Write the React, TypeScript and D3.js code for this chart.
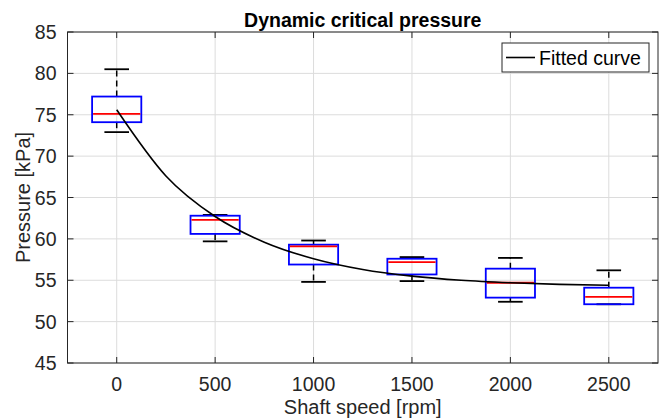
import React from 'react';
import * as d3 from 'd3';

// shaft speeds (rpm) and box statistics (kPa)
const speeds = [0, 500, 1000, 1500, 2000, 2500];
const whiskerLow = [72.9, 59.7, 54.8, 54.9, 52.4, 52.1];
const q1 = [74.1, 60.6, 56.9, 55.7, 52.9, 52.1];
const medians = [75.1, 62.3, 59.1, 57.2, 54.7, 53.0];
const q3 = [77.2, 62.8, 59.3, 57.6, 56.4, 54.1];
const whiskerHigh = [80.5, 62.9, 59.8, 57.8, 57.7, 56.2];

// fitted curve
const fitSpeeds = [0, 250, 500, 750, 1000, 1250, 1500, 1750, 2000, 2250, 2500];
const fitPressure = [75.6, 67.6, 62.7, 59.6, 57.6, 56.3, 55.5, 55.0, 54.7, 54.5, 54.4];

const xTicks = [0, 500, 1000, 1500, 2000, 2500];
const yTicks = [45, 50, 55, 60, 65, 70, 75, 80, 85];

const W = 665;
const H = 418;
const FONT = '"Liberation Sans", Arial, Helvetica, sans-serif';

const App = () => {
  const ref = React.useRef<SVGSVGElement>(null);

  React.useEffect(() => {
    const svg = d3.select(ref.current);
    svg.selectAll('*').remove();

    const left = 67.5;
    const right = 658;
    const top = 32;
    const bottom = 363;

    const x = d3.scaleLinear().domain([-250, 2750]).range([left, right]);
    const y = d3.scaleLinear().domain([45, 85]).range([bottom, top]);

    svg.append('rect').attr('width', W).attr('height', H).attr('fill', '#fff');

    // grid
    const grid = svg.append('g').attr('stroke', '#dcdcdc').attr('stroke-width', 1);
    xTicks.forEach((t) => {
      grid.append('line')
        .attr('x1', x(t)).attr('x2', x(t))
        .attr('y1', top).attr('y2', bottom);
    });
    yTicks.forEach((t) => {
      grid.append('line')
        .attr('x1', left).attr('x2', right)
        .attr('y1', y(t)).attr('y2', y(t));
    });

    const boxHalf = 125;
    const capHalf = 62.5;
    const g = svg.append('g');

    speeds.forEach((s, i) => {
      // whiskers (dashed)
      g.append('line')
        .attr('x1', x(s)).attr('x2', x(s))
        .attr('y1', y(q3[i])).attr('y2', y(whiskerHigh[i]))
        .attr('stroke', '#000').attr('stroke-width', 1.5)
        .attr('stroke-dasharray', '6,4');
      g.append('line')
        .attr('x1', x(s)).attr('x2', x(s))
        .attr('y1', y(q1[i])).attr('y2', y(whiskerLow[i]))
        .attr('stroke', '#000').attr('stroke-width', 1.5)
        .attr('stroke-dasharray', '6,4');
      // caps
      [whiskerHigh[i], whiskerLow[i]].forEach((v) => {
        g.append('line')
          .attr('x1', x(s - capHalf)).attr('x2', x(s + capHalf))
          .attr('y1', y(v)).attr('y2', y(v))
          .attr('stroke', '#000').attr('stroke-width', 1.8);
      });
      // box
      g.append('rect')
        .attr('x', x(s - boxHalf))
        .attr('y', y(q3[i]))
        .attr('width', x(s + boxHalf) - x(s - boxHalf))
        .attr('height', y(q1[i]) - y(q3[i]))
        .attr('fill', 'none')
        .attr('stroke', '#0000ff')
        .attr('stroke-width', 1.8);
      // median
      g.append('line')
        .attr('x1', x(s - boxHalf) + 1).attr('x2', x(s + boxHalf) - 1)
        .attr('y1', y(medians[i])).attr('y2', y(medians[i]))
        .attr('stroke', '#ff0000').attr('stroke-width', 1.8);
    });

    // fitted curve
    const line = d3.line<number>()
      .x((_, i) => x(fitSpeeds[i]))
      .y((d) => y(d))
      .curve(d3.curveMonotoneX);
    svg.append('path')
      .datum(fitPressure)
      .attr('d', line)
      .attr('fill', 'none')
      .attr('stroke', '#000')
      .attr('stroke-width', 1.6);

    // axes box and inward ticks
    const ax = svg.append('g').attr('stroke', '#262626').attr('stroke-width', 1);
    ax.append('rect')
      .attr('x', left).attr('y', top)
      .attr('width', right - left).attr('height', bottom - top)
      .attr('fill', 'none');
    const tl = 6;
    xTicks.forEach((t) => {
      ax.append('line').attr('x1', x(t)).attr('x2', x(t)).attr('y1', bottom).attr('y2', bottom - tl);
      ax.append('line').attr('x1', x(t)).attr('x2', x(t)).attr('y1', top).attr('y2', top + tl);
    });
    yTicks.forEach((t) => {
      ax.append('line').attr('x1', left).attr('x2', left + tl).attr('y1', y(t)).attr('y2', y(t));
      ax.append('line').attr('x1', right).attr('x2', right - tl).attr('y1', y(t)).attr('y2', y(t));
    });

    const txt = svg.append('g').attr('font-family', FONT).attr('fill', '#262626');
    xTicks.forEach((t) => {
      txt.append('text')
        .attr('x', x(t)).attr('y', 390.5)
        .attr('text-anchor', 'middle')
        .attr('font-size', 19.5)
        .text(t);
    });
    yTicks.forEach((t) => {
      txt.append('text')
        .attr('x', left - 11).attr('y', y(t))
        .attr('dy', '0.36em')
        .attr('text-anchor', 'end')
        .attr('font-size', 19.5)
        .text(t);
    });

    txt.append('text')
      .attr('x', (left + right) / 2).attr('y', 414)
      .attr('text-anchor', 'middle')
      .attr('font-size', 20)
      .text('Shaft speed [rpm]');

    txt.append('text')
      .attr('transform', `translate(30,${(top + bottom) / 2}) rotate(-90)`)
      .attr('text-anchor', 'middle')
      .attr('font-size', 20)
      .text('Pressure [kPa]');

    svg.append('text')
      .attr('x', (left + right) / 2).attr('y', 26.5)
      .attr('text-anchor', 'middle')
      .attr('font-family', FONT)
      .attr('font-weight', 'bold')
      .attr('font-size', 19.5)
      .attr('fill', '#000')
      .text('Dynamic critical pressure');

    // legend
    const lg = svg.append('g');
    lg.append('rect')
      .attr('x', 502).attr('y', 43)
      .attr('width', 147).attr('height', 29)
      .attr('fill', '#fff')
      .attr('stroke', '#262626').attr('stroke-width', 1);
    lg.append('line')
      .attr('x1', 506).attr('x2', 535)
      .attr('y1', 57.5).attr('y2', 57.5)
      .attr('stroke', '#000').attr('stroke-width', 1.6);
    lg.append('text')
      .attr('x', 539).attr('y', 64.5)
      .attr('font-family', FONT)
      .attr('font-size', 19.5)
      .attr('fill', '#000')
      .text('Fitted curve');
  }, []);

  return (
    <svg
      ref={ref}
      width={W}
      height={H}
      style={{ position: 'absolute', left: 0, top: 0 }}
    />
  );
};

export default App;
